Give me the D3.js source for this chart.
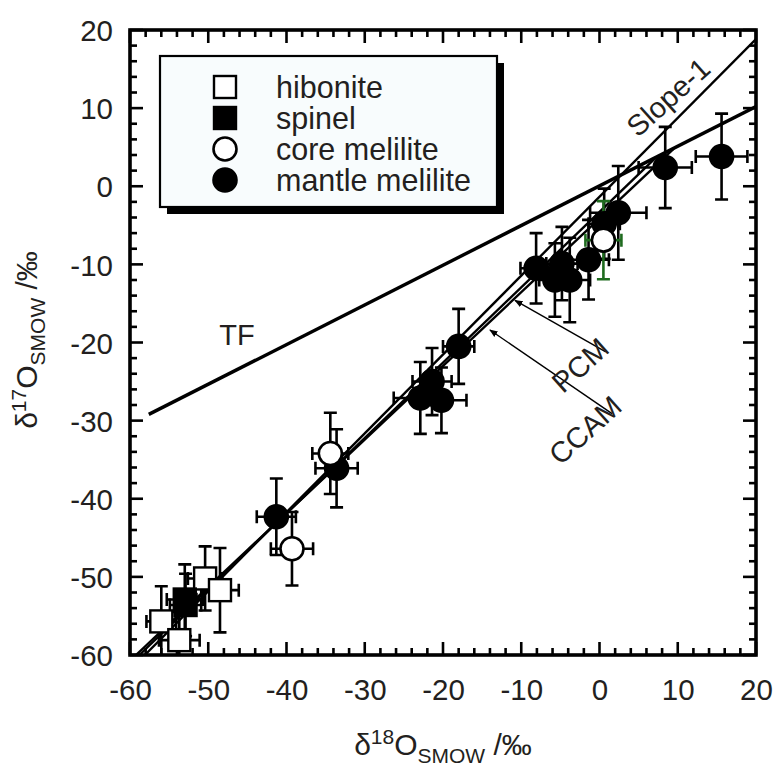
<!DOCTYPE html>
<html>
<head>
<meta charset="utf-8">
<script src="https://cdn.jsdelivr.net/npm/d3@7"></script>
<style>
  body { margin: 0; background: #fff; }
  svg { display: block; }
  text { font-family: "Liberation Sans", Arial, Helvetica, sans-serif; fill: #231f20; }
</style>
</head>
<body>
<svg id="chart" width="776" height="771"></svg>
<script>
// Axis tick values (‰)
const xTickValues = [-60, -50, -40, -30, -20, -10, 0, 10, 20];
const yTickValues = [20, 10, 0, -10, -20, -30, -40, -50, -60];

// Each entry: [δ18O, δ17O, ±δ18O, ±δ17O]
const hibonite = [
  [-50.4, -50.2, 2.2, 4.1],
  [-48.5, -51.7, 2.4, 5.4],
  [-56.0, -55.7, 1.9, 4.5],
  [-53.7, -58.1, 2.6, 3.6]
];
const spinel = [
  [-53.0, -52.9, 2.3, 4.5],
  [-52.9, -53.6, 2.0, 4.0]
];
const coreMelilite = [
  [0.5, -6.9, 2.3, 5.0],
  [-34.4, -34.2, 2.3, 5.2],
  [-39.3, -46.4, 2.7, 4.7]
];
const mantleMelilite = [
  [15.6, 3.8, 3.3, 5.5],
  [8.4, 2.4, 3.4, 5.2],
  [2.4, -3.4, 3.6, 6.0],
  [0.6, -4.8, 2.0, 4.5],
  [-1.4, -9.4, 2.6, 5.1],
  [-4.8, -9.9, 2.0, 4.7],
  [-8.1, -10.5, 2.0, 4.5],
  [-5.7, -12.0, 2.0, 4.7],
  [-3.8, -12.0, 2.6, 5.4],
  [-18.0, -20.5, 2.0, 4.8],
  [-21.4, -25.0, 2.5, 4.3],
  [-22.9, -27.1, 3.4, 4.6],
  [-20.2, -27.4, 3.2, 4.2],
  [-33.6, -36.1, 2.7, 5.0],
  [-41.3, -42.3, 2.5, 4.9]
];

// Reference lines (end points in ‰)
const tfLine = [[-57.6, -29.2], [20, 10.2]];
const slope1Line = [[-58.1, -60], [20, 18.85]];
const pcmLine = [[-58.8, -60], [7.2, 3.65]];
const ccamLine = [[-59.24, -60], [9.5, 4.83]];
const pcmArrow = [[0.8, -21.2], [-10.8, -14.6]];
const ccamArrow = [[1.6, -29.1], [-14.0, -18.4]];

const legendItems = ["hibonite", "spinel", "core melilite", "mantle melilite"];

const svg = d3.select("#chart");
const x = d3.scaleLinear().domain([-60, 20]).range([130, 756]);
const y = d3.scaleLinear().domain([-60, 20]).range([655, 30]);
const ink = "#000";
const textInk = "#231f20";

const defs = svg.append("defs");
defs.append("clipPath").attr("id", "plot-clip")
  .append("rect").attr("x", x(-60)).attr("y", y(20))
  .attr("width", x(20) - x(-60)).attr("height", y(-60) - y(20));
defs.append("marker").attr("id", "arrowhead")
  .attr("viewBox", "0 0 10 10").attr("refX", 9).attr("refY", 5)
  .attr("markerWidth", 6).attr("markerHeight", 6).attr("orient", "auto")
  .attr("markerUnits", "strokeWidth")
  .append("path").attr("d", "M0,1 L10,5 L0,9 Z").attr("fill", ink);

// ---- ticks (inward on all four sides) ----
const minorX = d3.range(-60, 20.001, 2).filter(v => v % 10 !== 0);
const ticks = svg.append("g").attr("stroke", ink).attr("stroke-width", 2.6);
const majorLen = 13, minorLen = 7;
function drawTicks(vals, len) {
  vals.forEach(v => {
    ticks.append("line").attr("x1", x(v)).attr("x2", x(v)).attr("y1", y(-60)).attr("y2", y(-60) - len);
    ticks.append("line").attr("x1", x(v)).attr("x2", x(v)).attr("y1", y(20)).attr("y2", y(20) + len);
    ticks.append("line").attr("y1", y(v)).attr("y2", y(v)).attr("x1", x(-60)).attr("x2", x(-60) + len);
    ticks.append("line").attr("y1", y(v)).attr("y2", y(v)).attr("x1", x(20)).attr("x2", x(20) - len);
  });
}
drawTicks(xTickValues, majorLen);
drawTicks(minorX, minorLen);

// tick labels through d3 axes (plain hyphen as minus sign)
const fmt = d => String(d);
const xAxis = d3.axisBottom(x).tickValues(xTickValues).tickSize(0).tickPadding(24).tickFormat(fmt);
const yAxis = d3.axisLeft(y).tickValues(yTickValues).tickSize(0).tickPadding(17).tickFormat(fmt);
const gx = svg.append("g").attr("transform", `translate(0,${y(-60)})`).call(xAxis);
const gy = svg.append("g").attr("transform", `translate(${x(-60)},0)`).call(yAxis);
[gx, gy].forEach(g => {
  g.select(".domain").remove();
  g.selectAll("text").attr("font-size", 29.5).attr("fill", textInk)
    .attr("font-family", "'Liberation Sans', Arial, sans-serif");
});
gx.selectAll("text").attr("dy", "0.71em");
gy.selectAll("text").attr("dy", "0.36em");

// ---- reference lines ----
const line = d3.line().x(d => x(d[0])).y(d => y(d[1]));
const lines = svg.append("g").attr("clip-path", "url(#plot-clip)").attr("fill", "none").attr("stroke", ink);
lines.append("path").attr("d", line(tfLine)).attr("stroke-width", 3.4);
lines.append("path").attr("d", line(slope1Line)).attr("stroke-width", 2.4);
lines.append("path").attr("d", line(pcmLine)).attr("stroke-width", 2.4);
lines.append("path").attr("d", line(ccamLine)).attr("stroke-width", 2.4);

// annotation arrows
[pcmArrow, ccamArrow].forEach(a => {
  svg.append("path").attr("d", line(a)).attr("fill", "none").attr("stroke", ink)
    .attr("stroke-width", 1.4).attr("marker-end", "url(#arrowhead)");
});

// ---- error bars ----
const capHalf = 6.5;
function errorBars(data, colourOf) {
  const g = svg.append("g").attr("clip-path", "url(#plot-clip)").attr("stroke-width", 2.6).attr("fill", "none");
  data.forEach((d, i) => {
    const c = colourOf ? colourOf(i) : ink;
    const cx = x(d[0]), cy = y(d[1]);
    const x0 = x(d[0] - d[2]), x1 = x(d[0] + d[2]);
    const y0 = y(d[1] - d[3]), y1 = y(d[1] + d[3]);
    const p = d3.path();
    p.moveTo(x0, cy); p.lineTo(x1, cy);
    p.moveTo(x0, cy - capHalf); p.lineTo(x0, cy + capHalf);
    p.moveTo(x1, cy - capHalf); p.lineTo(x1, cy + capHalf);
    p.moveTo(cx, y0); p.lineTo(cx, y1);
    p.moveTo(cx - capHalf, y0); p.lineTo(cx + capHalf, y0);
    p.moveTo(cx - capHalf, y1); p.lineTo(cx + capHalf, y1);
    g.append("path").attr("d", p.toString()).attr("stroke", c);
  });
}
errorBars(hibonite);
errorBars(spinel);
errorBars(mantleMelilite);
errorBars(coreMelilite, i => i === 0 ? "#1f6b1f" : ink);

// ---- symbols ----
const sq = 22, rad = 11.5;
const sym = svg.append("g").attr("clip-path", "url(#plot-clip)");
function squares(data, fill) {
  sym.selectAll(null).data(data).enter().append("rect")
    .attr("x", d => x(d[0]) - sq / 2).attr("y", d => y(d[1]) - sq / 2)
    .attr("width", sq).attr("height", sq)
    .attr("fill", fill).attr("stroke", ink).attr("stroke-width", 2.4);
}
function circles(data, fill) {
  sym.selectAll(null).data(data).enter().append("circle")
    .attr("cx", d => x(d[0])).attr("cy", d => y(d[1])).attr("r", rad)
    .attr("fill", fill).attr("stroke", ink).attr("stroke-width", 2.6);
}
squares(hibonite, "#fff");
squares(spinel, ink);
circles(mantleMelilite, ink);
circles(coreMelilite, "#fff");

// ---- frame ----
svg.append("rect").attr("x", x(-60)).attr("y", y(20))
  .attr("width", x(20) - x(-60)).attr("height", y(-60) - y(20))
  .attr("fill", "none").attr("stroke", ink).attr("stroke-width", 3.6);

// ---- line labels ----
function label(txt, px, py, rot) {
  svg.append("text").attr("transform", `translate(${px},${py}) rotate(${rot})`)
    .attr("text-anchor", "middle").attr("dy", "0.36em")
    .attr("font-size", 29).text(txt);
}
label("TF", 237, 335, 0);
label("Slope-1", 668, 97, -42);
label("PCM", 580, 365, -42);
label("CCAM", 585, 430, -42);

// ---- legend ----
const lg = svg.append("g");
const lx = 160, ly = 56, lw = 337, lh = 151, shadow = 7;
lg.append("rect").attr("x", lx + shadow).attr("y", ly + shadow).attr("width", lw).attr("height", lh).attr("fill", ink);
lg.append("rect").attr("x", lx).attr("y", ly).attr("width", lw).attr("height", lh)
  .attr("fill", "#f8fcfd").attr("stroke", ink).attr("stroke-width", 2.2);
const rowY = [87, 118, 149, 180];
legendItems.forEach((name, i) => {
  const cy = rowY[i];
  if (i < 2) {
    lg.append("rect").attr("x", 225 - sq / 2).attr("y", cy - sq / 2).attr("width", sq).attr("height", sq)
      .attr("fill", i === 0 ? "#fff" : ink).attr("stroke", ink).attr("stroke-width", 2.4);
  } else {
    lg.append("circle").attr("cx", 225).attr("cy", cy).attr("r", rad)
      .attr("fill", i === 2 ? "#fff" : ink).attr("stroke", ink).attr("stroke-width", 2.6);
  }
  lg.append("text").attr("x", 276).attr("y", cy).attr("dy", "0.36em")
    .attr("font-size", 30.5).text(name);
});

// ---- axis titles ----
const xt = svg.append("text").attr("x", 443).attr("y", 755).attr("text-anchor", "middle").attr("font-size", 30);
xt.append("tspan").text("δ");
xt.append("tspan").attr("font-size", 21).attr("dy", -11).text("18");
xt.append("tspan").attr("dy", 11).text("O");
xt.append("tspan").attr("font-size", 21).attr("dy", 8).text("SMOW");
xt.append("tspan").attr("dy", -8).text(" /‰");

const yt = svg.append("text").attr("transform", "translate(37,340) rotate(-90)")
  .attr("text-anchor", "middle").attr("font-size", 30);
yt.append("tspan").text("δ");
yt.append("tspan").attr("font-size", 21).attr("dy", -11).text("17");
yt.append("tspan").attr("dy", 11).text("O");
yt.append("tspan").attr("font-size", 21).attr("dy", 8).text("SMOW");
yt.append("tspan").attr("dy", -8).text(" /‰");
</script>
</body>
</html>
